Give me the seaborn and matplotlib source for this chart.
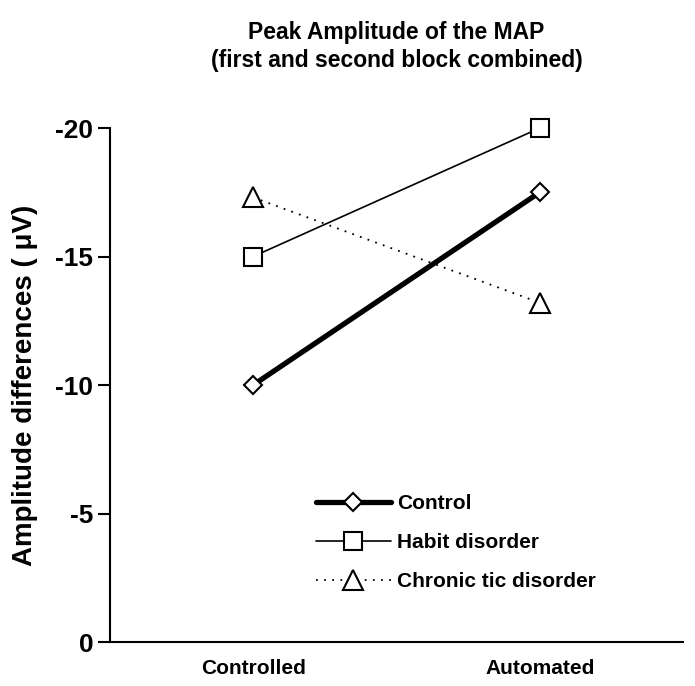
import matplotlib
matplotlib.use("Agg")
import matplotlib.pyplot as plt
import seaborn as sns
import pandas as pd
from matplotlib.ticker import FixedLocator

conditions = ["Controlled", "Automated"]
groups = ["Control", "Habit disorder", "Chronic tic disorder"]
control = [-10.0, -17.5]
habit = [-15.0, -20.0]
chronic = [-17.3, -13.2]
yticks = [0, -5, -10, -15, -20]

sns.set_style("white")
plt.rcParams['font.family'] = ['Liberation Sans', 'DejaVu Sans']
plt.rcParams['font.weight'] = 'bold'
for k in ["text.color", "axes.labelcolor", "xtick.color", "ytick.color"]:
    plt.rcParams[k] = "black"

df = pd.DataFrame({
    "condition": conditions * 3,
    "pos": [0, 1] * 3,
    "group": [groups[0]] * 2 + [groups[1]] * 2 + [groups[2]] * 2,
    "value": control + habit + chronic,
})

fig = plt.figure(figsize=(6.95, 6.86), dpi=100)
ax = fig.add_axes([0.158, 0.0641, 0.825, 0.7493])

styles = {
    "Control": dict(lw=3.8, marker="D", ms=9, ls="-"),
    "Habit disorder": dict(lw=1.2, marker="s", ms=13, ls="-"),
    "Chronic tic disorder": dict(lw=1.3, marker="^", ms=14, ls=(0, (1, 3.5))),
}
for g in groups:
    sub = df[df["group"] == g]
    st = styles[g]
    sns.lineplot(data=sub, x="pos", y="value", ax=ax, color="black",
                 linewidth=st["lw"], linestyle=st["ls"], marker=st["marker"],
                 markersize=st["ms"], markerfacecolor="white",
                 markeredgecolor="black", markeredgewidth=1.5, label=g,
                 clip_on=False)

ax.set_xlim(-0.5, 1.5)
ax.set_ylim(0, -20)
ax.set_xticks([0, 1])
ax.set_xticklabels(conditions, fontsize=15, fontweight="bold")
ax.xaxis.set_minor_locator(FixedLocator([-0.5, 0.5, 1.5]))
ax.tick_params(axis="x", which="major", length=0, pad=12)
ax.tick_params(axis="x", which="minor", length=7, width=1.5, direction="in")
ax.set_yticks(yticks)
ax.set_yticklabels([str(t) for t in yticks], fontsize=19, fontweight="bold")
ax.tick_params(axis="y", length=9, width=1.5, direction="out", left=True, pad=3)
ax.set_xlabel("")
ax.set_ylabel("Amplitude differences ( μV)", fontsize=20, fontweight="bold", labelpad=12)
for s in ["top", "right"]:
    ax.spines[s].set_visible(False)
for s in ["left", "bottom"]:
    ax.spines[s].set_linewidth(1.5)
    ax.spines[s].set_color("black")

ax.set_title("Peak Amplitude of the MAP\n(first and second block combined)",
             fontsize=16.5, fontweight="bold", pad=44, linespacing=1.25)

leg = ax.legend(loc="lower left", bbox_to_anchor=(0.345, 0.083), frameon=False,
                fontsize=15, handlelength=3.6, handletextpad=0.3,
                labelspacing=0.95, borderaxespad=0)
for t in leg.get_texts():
    t.set_fontweight("bold")

fig.savefig("out.png", dpi=100)
